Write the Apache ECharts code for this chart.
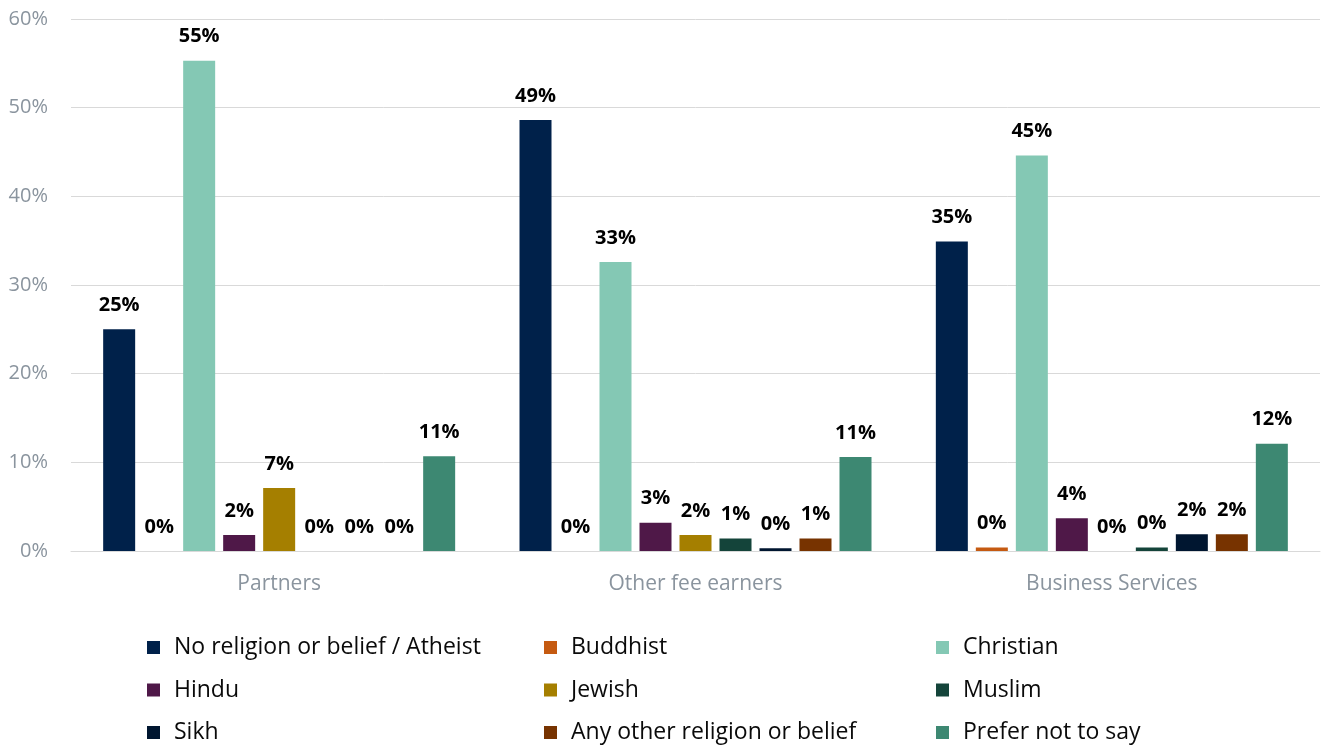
<!DOCTYPE html>
<html>
<head>
<meta charset="utf-8">
<script src="https://cdn.jsdelivr.net/npm/echarts@6/dist/echarts.min.js"></script>
<style>
  html, body { margin: 0; padding: 0; background: #fff; }
  #chart { width: 1328px; height: 747px; }
</style>
</head>
<body>
<div id="chart"></div>
<script>
// Staff groups along the x axis
const categories = ['Partners', 'Other fee earners', 'Business Services'];

// Religion / belief groups, in legend order
const seriesNames = [
  'No religion or belief / Atheist', 'Buddhist', 'Christian',
  'Hindu', 'Jewish', 'Muslim',
  'Sikh', 'Any other religion or belief', 'Prefer not to say'
];

// Share (%) for each group: [Partners, Other fee earners, Business Services]
const noReligion = [25.0, 48.6, 34.9];
const buddhist   = [0.0, 0.0, 0.4];
const christian  = [55.3, 32.6, 44.6];
const hindu      = [1.8, 3.2, 3.7];
const jewish     = [7.1, 1.8, 0.0];
const muslim     = [0.0, 1.4, 0.4];
const sikh       = [0.0, 0.3, 1.9];
const otherBelief = [0.0, 1.4, 1.9];
const preferNot  = [10.7, 10.6, 12.1];

const seriesValues = [noReligion, buddhist, christian, hindu, jewish, muslim, sikh, otherBelief, preferNot];

const colors = ['#00214a', '#c55a11', '#84c8b4', '#4f1848', '#a57f00', '#14443a', '#001630', '#773300', '#3d8872'];

const yTicks = [0, 10, 20, 30, 40, 50, 60];

const FONT = '"Open Sans", "Noto Sans", sans-serif';

const series = seriesNames.map((name, i) => ({
  name: name,
  type: 'bar',
  data: seriesValues[i],
  barWidth: 32,
  barGap: '25%',
  itemStyle: { color: colors[i] },
  label: {
    show: true,
    position: 'top',
    distance: 14,
    formatter: p => Math.round(p.value) + '%',
    color: '#000',
    fontWeight: 'bold',
    fontSize: 20,
    fontFamily: FONT
  }
}));

// Three vertical legend columns laid side by side
const legendStyle = {
  orient: 'vertical',
  height: 140,
  padding: 0,
  itemWidth: 13,
  itemHeight: 13,
  itemGap: 19.5,
  icon: 'rect',
  textStyle: { fontSize: 23, color: '#0a0a0a', fontFamily: FONT, padding: [0, 0, 0, 9] }
};

const option = {
  animation: false,
  backgroundColor: '#fff',
  grid: { left: 71, right: 8, top: 19, bottom: 196, containLabel: false },
  legend: [
    Object.assign({ left: 147, top: 636, data: [seriesNames[0], seriesNames[3], seriesNames[6]] }, legendStyle),
    Object.assign({ left: 544, top: 636, data: [seriesNames[1], seriesNames[4], seriesNames[7]] }, legendStyle),
    Object.assign({ left: 936, top: 636, data: [seriesNames[2], seriesNames[5], seriesNames[8]] }, legendStyle)
  ],
  xAxis: {
    type: 'category',
    data: categories,
    axisLine: { show: true, lineStyle: { color: '#d9d9d9', width: 1 } },
    axisTick: { show: false },
    axisLabel: { color: '#8a949e', fontSize: 21, fontFamily: FONT, margin: 23 }
  },
  yAxis: {
    type: 'value',
    min: yTicks[0],
    max: yTicks[yTicks.length - 1],
    interval: 10,
    axisLine: { show: false },
    axisTick: { show: false },
    splitLine: { lineStyle: { color: '#d9d9d9', width: 1 } },
    axisLabel: { color: '#8a949e', fontSize: 20, fontFamily: FONT, margin: 23, formatter: '{value}%' }
  },
  series: series
};

echarts.init(document.getElementById('chart'), null, { renderer: 'canvas' }).setOption(option);
</script>
</body>
</html>
